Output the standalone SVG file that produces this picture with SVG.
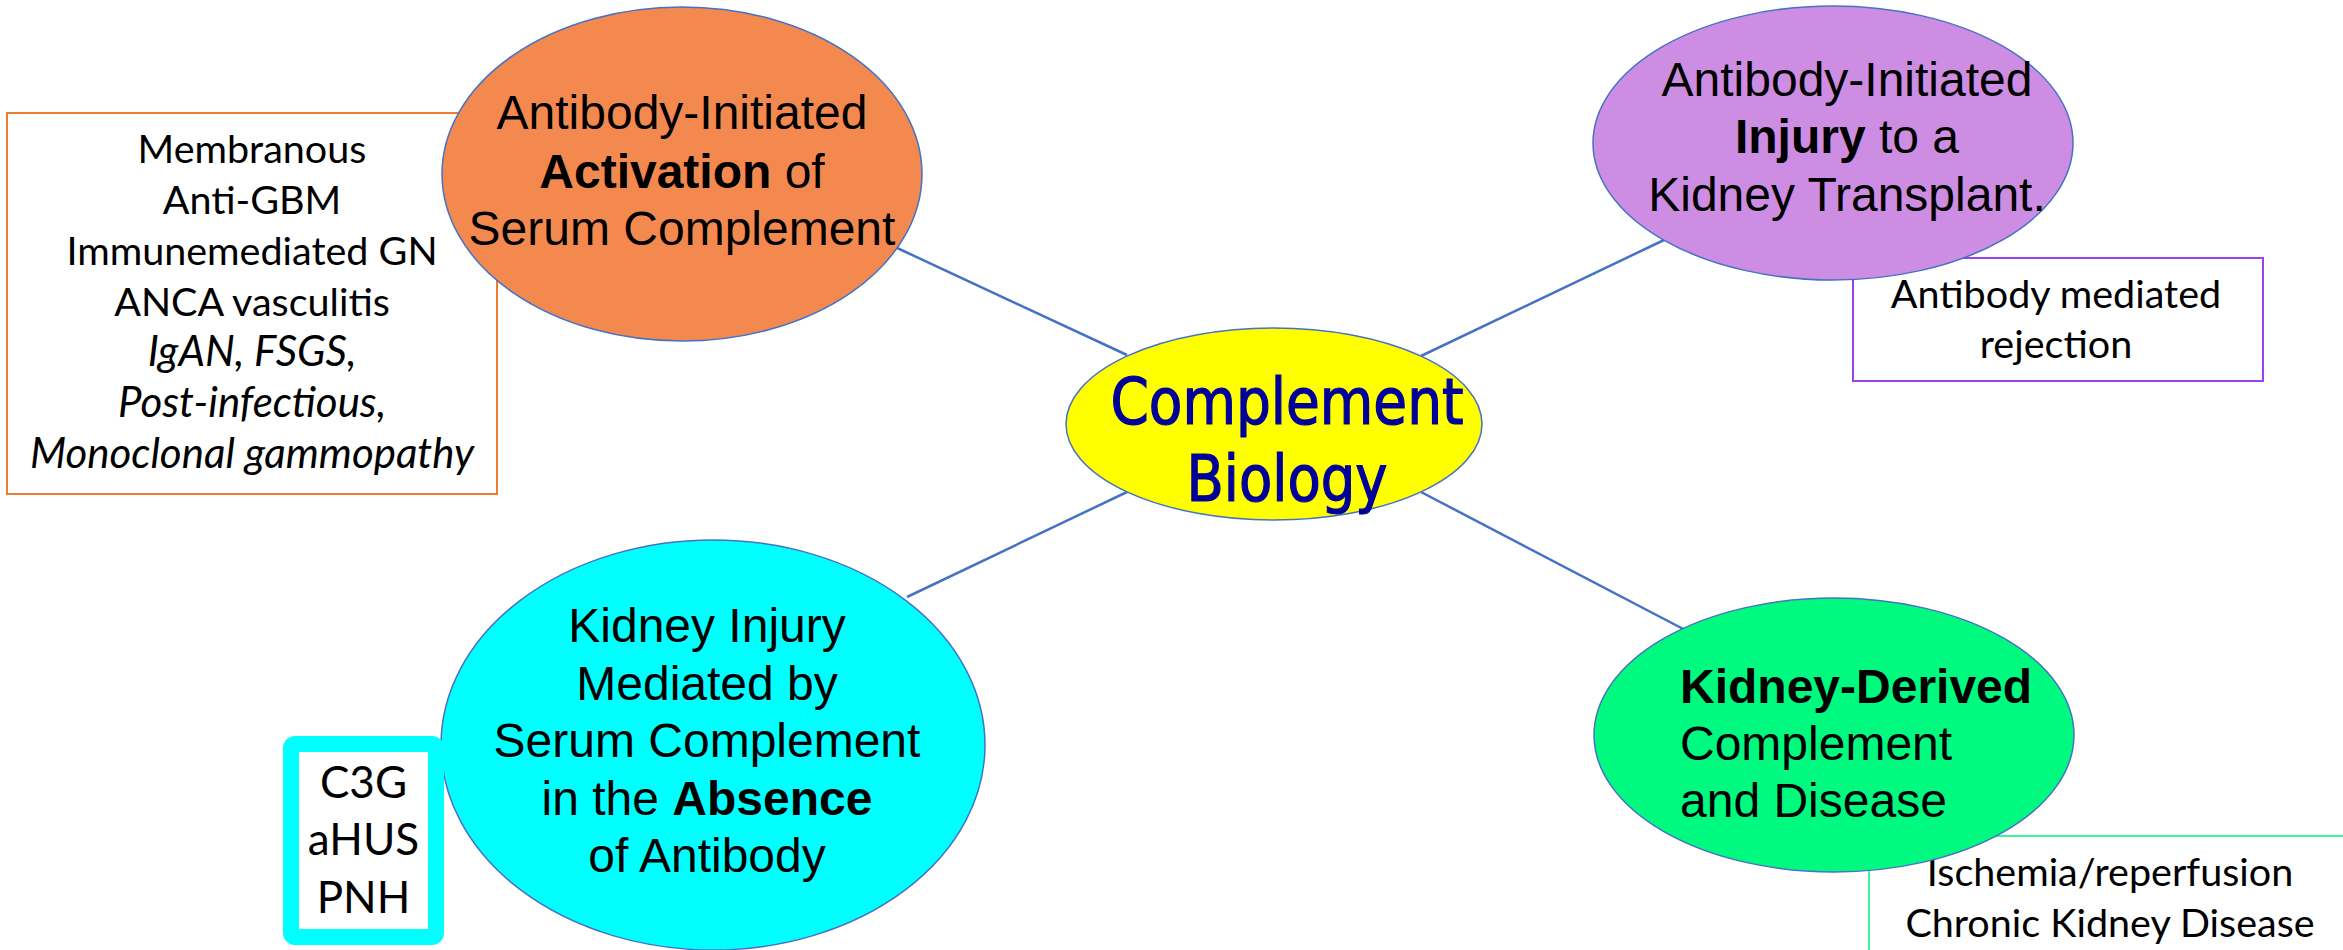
<svg xmlns="http://www.w3.org/2000/svg" width="2343" height="950" viewBox="0 0 2343 950">
  <style>
    .conn { stroke: #4472C4; stroke-width: 2.5; fill: none; }
    .node { stroke: #4472C4; stroke-width: 1.5; }
    .list { fill: #ffffff; stroke-width: 2; }
    .arial { font-family: "Liberation Sans", Arial, sans-serif; font-size: 48px; fill: #000000; }
    .cal { font-family: Lato, "Open Sans", sans-serif; font-size: 39.5px; fill: #000000; text-anchor: middle; }
    .mid { text-anchor: middle; }
    .b { font-weight: bold; }
    .i { font-style: italic; font-size: 42px; }
    .title { font-family: "DejaVu Sans Condensed", "DejaVu Sans", sans-serif; font-size: 64px; fill: #000099; stroke: #000099; stroke-width: 1.2; text-anchor: middle; }
  </style>

  <!-- connectors from the central node to the four topics -->
  <g id="connectors">
    <line class="conn" x1="1127" y1="355" x2="895" y2="247"/>
    <line class="conn" x1="1421" y1="356" x2="1664" y2="240"/>
    <line class="conn" x1="1127" y1="492" x2="907" y2="597"/>
    <line class="conn" x1="1421" y1="492" x2="1689" y2="632"/>
  </g>

  <!-- example lists (drawn beneath the topic ellipses) -->
  <g id="activation-list">
    <rect class="list" x="7" y="113" width="490" height="381" stroke="#ED7D31"/>
    <text class="cal" x="252" y="163">Membranous</text>
    <text class="cal" x="252" y="214">Anti-GBM</text>
    <text class="cal" x="252" y="265">Immunemediated GN</text>
    <text class="cal" x="252" y="316">ANCA vasculitis</text>
    <text class="cal i" x="252" y="366">IgAN, FSGS,</text>
    <text class="cal i" x="252" y="417">Post-infectious,</text>
    <text class="cal i" x="252" y="468">Monoclonal gammopathy</text>
  </g>

  <g id="transplant-list">
    <rect class="list" x="1853" y="258" width="410" height="123" stroke="#9B3FF2"/>
    <text class="cal" x="2056" y="308">Antibody mediated</text>
    <text class="cal" x="2056" y="358">rejection</text>
  </g>

  <g id="kidney-list">
    <rect class="list" x="1869" y="836" width="490" height="140" stroke="#3DF59A"/>
    <text class="cal" x="2110" y="886">Ischemia/reperfusion</text>
    <text class="cal" x="2110" y="937">Chronic Kidney Disease</text>
  </g>

  <!-- topic ellipses -->
  <g id="activation">
    <ellipse class="node" cx="682" cy="174" rx="240" ry="167" fill="#F4894F"/>
    <text class="arial mid" x="682" y="129">Antibody-Initiated</text>
    <text class="arial mid" x="682" y="188"><tspan class="b">Activation</tspan> of</text>
    <text class="arial mid" x="682" y="245">Serum Complement</text>
  </g>

  <g id="transplant">
    <ellipse class="node" cx="1833" cy="143" rx="240" ry="137" fill="#CD8DE2"/>
    <text class="arial mid" x="1847" y="96">Antibody-Initiated</text>
    <text class="arial mid" x="1847" y="153"><tspan class="b">Injury</tspan> to a</text>
    <text class="arial mid" x="1847" y="211">Kidney Transplant.</text>
  </g>

  <g id="absence">
    <ellipse class="node" cx="713" cy="745" rx="272" ry="205" fill="#00FFFF" stroke="none"/>
    <text class="arial mid" x="707" y="642">Kidney Injury</text>
    <text class="arial mid" x="707" y="700">Mediated by</text>
    <text class="arial mid" x="707" y="757">Serum Complement</text>
    <text class="arial mid" x="707" y="815">in the <tspan class="b">Absence</tspan></text>
    <text class="arial mid" x="707" y="872">of Antibody</text>
  </g>

  <g id="absence-list">
    <rect x="291" y="744" width="145" height="193" rx="4" fill="#ffffff" stroke="#00FFFF" stroke-width="16"/>
    <text class="cal" x="363.5" y="798" style="font-size:44px">C3G</text>
    <text class="cal" x="363.5" y="855" style="font-size:44px">aHUS</text>
    <text class="cal" x="363.5" y="913" style="font-size:44px">PNH</text>
  </g>

  <g id="kidney-derived">
    <ellipse class="node" cx="1834" cy="735" rx="240" ry="137" fill="#00FA80"/>
    <text class="arial" x="1680" y="703"><tspan class="b">Kidney-Derived</tspan></text>
    <text class="arial" x="1680" y="760">Complement</text>
    <text class="arial" x="1680" y="817">and Disease</text>
  </g>

  <!-- central node -->
  <g id="complement-biology">
    <ellipse class="node" cx="1274" cy="424" rx="208" ry="96" fill="#FFFF00"/>
    <text class="title" x="1287" y="424" textLength="353" lengthAdjust="spacingAndGlyphs">Complement</text>
    <text class="title" x="1287" y="501" textLength="201" lengthAdjust="spacingAndGlyphs">Biology</text>
  </g>
</svg>
